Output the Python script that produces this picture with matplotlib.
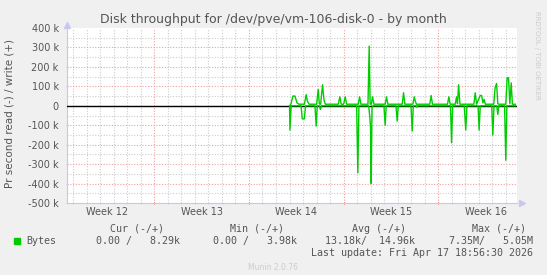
import matplotlib.pyplot as plt
from matplotlib.patches import Rectangle
import numpy as np

# time axis in days, day 0 = Monday of week 12
week_ticks = [7, 14, 21, 28]
week_labels = ["Week 12", "Week 13", "Week 14", "Week 15", "Week 16"]
week_label_pos = [3.5, 10.5, 17.5, 24.5, 31.5]

# write (+) series, vertices (day, kB/s)
write_days = [17.0, 17.1, 17.25, 17.4, 17.55, 17.7, 18.1, 18.23, 18.32, 18.45,
              19.0, 19.12, 19.2, 19.3, 19.44, 19.55, 19.65, 20.6, 20.72, 20.82,
              21.0, 21.12, 21.22, 22.08, 22.18, 22.28, 22.8, 22.89, 22.96, 23.05,
              23.14, 23.24, 24.07, 24.17, 24.27, 25.33, 25.43, 25.53, 26.12, 26.22,
              26.3, 26.38, 27.37, 27.47, 27.57, 28.68, 28.78, 28.88, 29.25, 29.35,
              29.42, 29.5, 29.6, 30.63, 30.73, 30.83, 31.1, 31.2, 31.3, 31.39,
              31.48, 32.1, 32.2, 32.31, 32.4, 32.5, 32.99, 33.09, 33.19, 33.29,
              33.39, 33.48, 33.7]
write_k = [0, 8, 50, 50, 15, 8, 8, 57, 24, 8,
           8, 84, 10, 8, 108, 29, 8, 8, 46, 8,
           8, 46, 8, 8, 46, 8, 8, 307, 8, 8,
           46, 8, 8, 46, 8, 8, 67, 8, 8, 46,
           24, 8, 8, 53, 8, 8, 46, 8, 8, 46,
           10, 108, 8, 8, 67, 8, 53, 53, 15, 33,
           8, 8, 93, 115, 10, 8, 8, 144, 144, 10,
           118, 8, 8]

# read (-) series, vertices (day, kB/s)
read_days = [17.0, 17.03, 17.12, 17.85, 17.94, 18.1, 18.18, 18.88, 18.97, 19.05,
             19.2, 19.28, 19.36, 21.96, 22.05, 22.13, 22.85, 22.94, 22.99, 23.04,
             23.1, 23.16, 23.98, 24.07, 24.15, 24.87, 24.96, 25.04, 25.98, 26.07,
             26.15, 26.36, 26.41, 26.46, 28.9, 28.98, 29.06, 29.92, 30.03, 30.12,
             30.94, 31.02, 31.1, 31.95, 32.03, 32.12, 32.32, 32.4, 32.48, 32.9,
             32.99, 33.07, 33.7]
read_k = [0, 125, 0, 0, 67, 67, 0, 0, 105, 0,
          0, 19, 0, 0, 345, 0, 0, 60, 115, 400,
          10, 0, 0, 100, 0, 0, 79, 0, 0, 130,
          0, 0, 7, 0, 0, 190, 0, 0, 125, 0,
          0, 125, 0, 0, 151, 0, 0, 45, 0, 0,
          280, 0, 0]

yticks = [400, 300, 200, 100, 0, -100, -200, -300, -400, -500]

W, H = 547, 275
fig = plt.figure(figsize=(W / 100, H / 100), dpi=100)
fig.patch.set_facecolor("#f0f0f0")

def fx(x):
    return x / W

def fy(y):
    return 1 - y / H

ax = fig.add_axes([fx(67), fy(203), 450 / W, 175 / H])
ax.set_facecolor("white")

x0 = (67 - 59.63) / 13.524
x1 = (517 - 59.63) / 13.524
ax.set_xlim(x0, x1)
ax.set_ylim(-500e3, 400e3)

# grid
for d in range(1, 34):
    major = d % 7 == 0
    ax.axvline(d, color="#eea0a0" if major else "#cccccc", lw=0.8,
               ls=(0, (1, 1.5)), zorder=1)
for v in range(-450, 400, 50):
    major = v % 100 == 0
    ax.axhline(v * 1e3, color="#eea0a0" if major else "#cccccc", lw=0.8,
               ls=(0, (1, 1.5)), zorder=1)

ax.axhline(0, color="black", lw=1.0, zorder=3)
ax.plot(write_days, np.array(write_k) * 1e3, color="#00cc00", lw=1.0, zorder=4)
ax.plot(read_days, -np.array(read_k) * 1e3, color="#00cc00", lw=1.0, zorder=4)

ax.set_yticks([v * 1e3 for v in yticks])
ax.set_yticklabels(["0" if v == 0 else "%d k" % v for v in yticks],
                   fontsize=7, color="#555555")
ax.set_xticks(week_ticks)
ax.set_xticklabels([])
ax.set_xticks(range(1, 34), minor=True)
ax.tick_params(axis="both", which="both", length=2, direction="inout",
               color="#c8c8ee", pad=5)
ax.tick_params(axis="x", which="major", color="#e06060")
for p, lab in zip(week_label_pos, week_labels):
    ax.text(p, -9 / 175, lab, transform=ax.get_xaxis_transform(), ha="center",
            va="center", fontsize=7, color="#555555")

for s in ["top", "right"]:
    ax.spines[s].set_visible(False)
for s in ["left", "bottom"]:
    ax.spines[s].set_color("#c8c8ee")
    ax.spines[s].set_linewidth(0.8)
ax.plot([0], [1.02], marker="^", color="#c8c8ee", ms=4, transform=ax.transAxes,
        clip_on=False)
ax.plot([1.01], [0], marker=">", color="#c8c8ee", ms=4, transform=ax.transAxes,
        clip_on=False)

fig.text(fx(273), fy(19), "Disk throughput for /dev/pve/vm-106-disk-0 - by month",
         ha="center", va="center", fontsize=9, color="#555555")
fig.text(fx(10), fy(114), "Pr second read (-) / write (+)", rotation=90,
         ha="center", va="center", fontsize=7.5, color="#555555")
fig.text(fx(537), fy(55), "RRDTOOL / TOBI OETIKER", rotation=270,
         ha="center", va="center", fontsize=5, color="#cccccc")

mono = dict(family="DejaVu Sans Mono", fontsize=7.2, color="#555555", va="center")
headers = ["Cur (-/+)", "Min (-/+)", "Avg (-/+)", "Max (-/+)"]
header_x = [137.5, 257.5, 378.5, 499.5]
for hx, h in zip(header_x, headers):
    fig.text(fx(hx), fy(228.6), h, ha="center", **mono)

values = ["0.00 /   8.29k", "0.00 /   3.98k", "13.18k/  14.96k", "7.35M/   5.05M"]
value_x = [180, 297, 415, 533]
for vx, v in zip(value_x, values):
    fig.text(fx(vx), fy(241), v, ha="right", **mono)
fig.text(fx(26), fy(241), "Bytes", ha="left", **mono)
fig.patches.append(Rectangle((fx(14), fy(244)), 6 / W, 6 / H,
                             transform=fig.transFigure, color="#00cc00"))
fig.text(fx(533), fy(253.4), "Last update: Fri Apr 17 18:56:30 2026",
         ha="right", **mono)
fig.text(fx(273), fy(267), "Munin 2.0.76", ha="center", va="center",
         fontsize=5.5, color="#cccccc")

fig.savefig("out.png", dpi=100, facecolor=fig.get_facecolor())
